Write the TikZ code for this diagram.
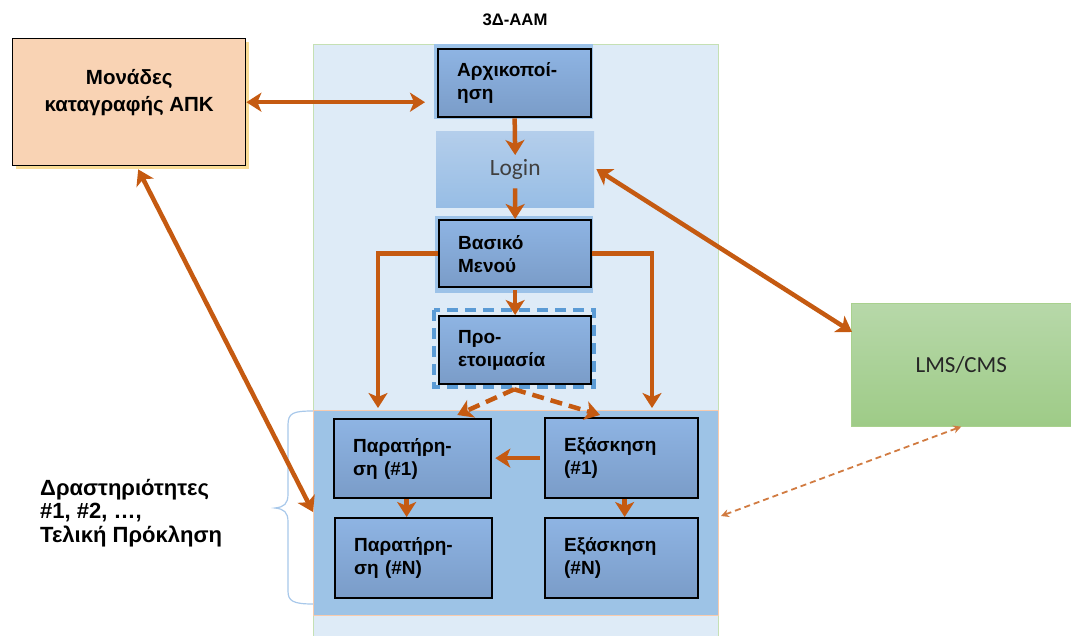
\documentclass[tikz,border=0pt]{standalone}
\usepackage{fontspec}
\setmainfont{Liberation Sans}
\newfontfamily\calib{Carlito}
\usetikzlibrary{arrows.meta,calc}
\definecolor{arr}{HTML}{C55A11}
\definecolor{contfill}{HTML}{DEEBF7}
\definecolor{contline}{HTML}{C5E0B4}
\definecolor{actfill}{HTML}{9DC3E6}
\definecolor{actline}{HTML}{F8CBAD}
\definecolor{boxtop}{HTML}{8EB4E3}
\definecolor{boxbot}{HTML}{7A9CC8}
\definecolor{backing}{HTML}{9CC2E8}
\definecolor{logtop}{HTML}{B4CEEB}
\definecolor{logbot}{HTML}{97BDE5}
\definecolor{peach}{HTML}{F9D3B4}
\definecolor{peachshadow}{HTML}{F9DC96}
\definecolor{lmstop}{HTML}{B7D8A9}
\definecolor{lmsbot}{HTML}{9ECB87}
\definecolor{lmsline}{HTML}{A9D18E}
\definecolor{dashblue}{HTML}{5B9BD5}
\definecolor{bracec}{HTML}{A8C8EA}
\tikzset{
  bbox/.style={draw=black, line width=2.3pt, top color=boxtop, bottom color=boxbot,
    anchor=north west, align=left, inner xsep=19pt, inner ysep=0pt,
    font=\bfseries\fontsize{19}{23}\selectfont},
  backrect/.style={fill=backing},
  otip/.style={Stealth[length=15pt,width=19pt,inset=4pt]},
  oarr/.style={draw=arr, line width=4.5pt, -{Stealth[length=15pt,width=19pt,inset=4pt]}},
  odarr/.style={draw=arr, line width=4.5pt, {Stealth[length=15pt,width=19pt,inset=4pt]}-{Stealth[length=15pt,width=19pt,inset=4pt]}},
  odash/.style={oarr, dash pattern=on 12pt off 7pt},
  thindash/.style={draw=arr!80, line width=1.8pt, dash pattern=on 6pt off 4pt,
    {Stealth[length=8pt,width=8pt]}-{Stealth[length=8pt,width=8pt]}},
  btext/.style={font=\bfseries\fontsize{22}{23.5}\selectfont, align=left, inner sep=0pt}
}
\begin{document}
\begin{tikzpicture}[x=1pt,y=-1pt]
\useasboundingbox (0,0) rectangle (1071,635);

% title
\node[font=\bfseries\fontsize{16.7}{19}\selectfont] (title) at (515,20) {3Δ-ΑΑΜ};

% outer container
\node[fill=contfill, draw=contline, line width=1.2pt, anchor=north west,
  minimum width=405pt, minimum height=600pt, inner sep=0pt] (aam) at (313,44) {};

% activities container
\node[fill=actfill, draw=actline, line width=1pt, anchor=north west,
  minimum width=405pt, minimum height=205pt, inner sep=0pt] (act) at (313,410) {};

% backing rectangles
\fill[backrect] (434,44) rectangle (593,119);
\fill[backrect] (435,216) rectangle (593,293);
\fill[backrect] (336,420) rectangle (495,499);
\fill[backrect] (337,520) rectangle (496,599);
\fill[backrect] (547,420) rectangle (700,499);
\fill[backrect] (547,520) rectangle (700,599);
\draw[draw=dashblue, line width=3.5pt, dash pattern=on 11pt off 7pt] (434,310) rectangle (594,387);

% boxes
\node[bbox, minimum width=153pt, minimum height=68pt, text width=115pt] (arx) at (437,48) {Αρχικοποί-\\ηση};
\node[anchor=north west, top color=logtop, bottom color=logbot, minimum width=158pt,
  minimum height=76pt, inner sep=0pt, text=black!75,
  font=\calib\fontsize{23.4}{27}\selectfont] (login) at (436,131) {Login};
\node[bbox, minimum width=152pt, minimum height=67pt, text width=114pt] (bas) at (438,219) {Βασικό\\Μενού};
\node[bbox, minimum width=152pt, minimum height=68pt, text width=114pt] (pro) at (438,315) {Προ-\\ετοιμασία};
\node[bbox, minimum width=157pt, minimum height=79pt, text width=119pt] (obs1) at (333,418) {Παρατήρη-\\ση (\#1)};
\node[bbox, minimum width=153pt, minimum height=80pt, text width=115pt] (exe1) at (544,417) {Εξάσκηση\\(\#1)};
\node[bbox, minimum width=157pt, minimum height=80pt, text width=119pt] (obsN) at (334,517) {Παρατήρη-\\ση (\#N)};
\node[bbox, minimum width=153pt, minimum height=80pt, text width=115pt] (exeN) at (544,517) {Εξάσκηση\\(\#N)};

% Monades box
\fill[peachshadow] (16,42) rectangle (249,169);
\node[draw=black, line width=1.4pt, fill=peach, anchor=north west,
  minimum width=233pt, minimum height=127pt, inner sep=0pt] (mon) at (12,38) {};
\node[font=\bfseries\fontsize{20.5}{27}\selectfont, align=center] (montxt)
  at ($(mon.center)+(0,-10)$) {Μονάδες\\καταγραφής ΑΠΚ};

% LMS box
\node[anchor=north west, top color=lmstop, bottom color=lmsbot, draw=lmsline, line width=0.6pt,
  minimum width=220pt, minimum height=123pt, inner sep=0pt, text=black!85,
  font=\calib\fontsize{23}{27}\selectfont] (lms) at (851,303) {LMS/CMS};

% side text and brace
\node[btext, anchor=west] (acttxt) at (40,513) {Δραστηριότητες\\\#1, \#2, …,\\Τελική Πρόκληση};
\draw[bracec, line width=1.2pt] (313,411) .. controls (293,411) and (288,413) .. (288,425)
  -- (288,494) .. controls (288,504) and (284,507) .. (275,508)
  .. controls (284,509) and (288,512) .. (288,522)
  -- (288,591) .. controls (288,601) and (293,604) .. (313,604);

% arrows
\draw[odarr] (mon.east) -- ($(mon.east -| arx.west)+(-12,0)$);
\draw[oarr] (arx.south) -- ($(login.north)+(0,24)$);
\draw[oarr] ($(login.south)+(0,-19)$) -- (bas.north);
\draw[oarr] ($(bas.south)+(0,2)$) -- (pro.north);
\draw[oarr] (bas.west) -| ($(act.north west)+(65,-2)$);
\draw[oarr] (bas.east) -| ($(act.north west)+(339,-2)$);
\draw[odash] ($(pro.south)+(-1,4)$) -- ($(obs1.north east)+(-35,-3)$);
\draw[odash] ($(pro.south)+(-1,4)$) -- ($(exe1.north west)+(56,-2)$);
\draw[oarr, shorten <=4pt, shorten >=3pt] (exe1.west) -- (exe1.west -| obs1.east);
\draw[oarr] ($(obs1.south)+(-6,0)$) -- ($(obsN.north)+(-7,0)$);
\draw[oarr] ($(exe1.south)+(3,0)$) -- ($(exeN.north)+(3,0)$);
\draw[odarr] ($(mon.south)+(9,3)$) -- ($(act.west)+(0,-1)$);
\draw[odarr] ($(login.east)+(2,0)$) -- ($(lms.north west)+(1,29)$);
\draw[thindash] ($(act.east)+(2,3)$) -- (lms.south);
\end{tikzpicture}
\end{document}
